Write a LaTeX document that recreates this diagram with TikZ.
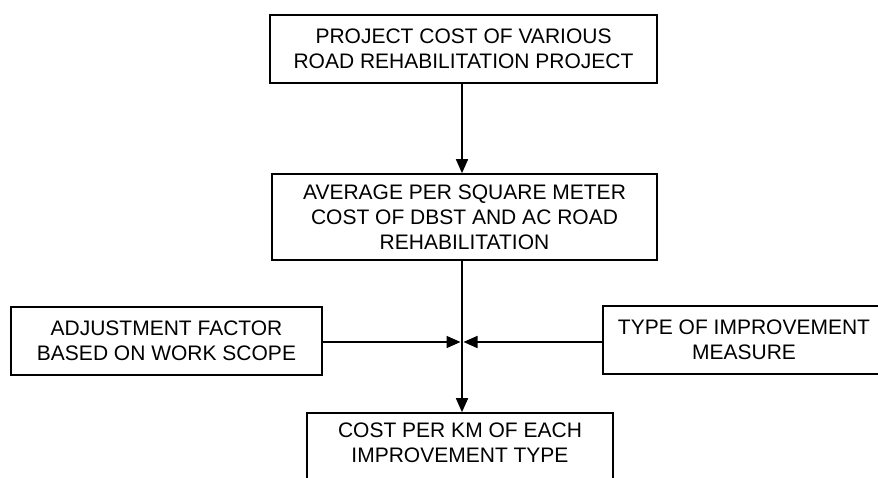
\documentclass[tikz,border=0pt]{standalone}
\usepackage{fontspec}
\setmainfont{Liberation Sans}
\usetikzlibrary{arrows.meta}
\begin{document}
\begin{tikzpicture}[x=1pt,y=1pt,
  txt/.style={align=center, inner sep=0pt, font=\fontsize{21}{25}\selectfont},
  box/.style={txt, draw=black, line width=1.6pt},
  flow/.style={line width=1.6pt, -{Triangle[length=14pt,width=12pt]}}]
  \useasboundingbox (0,0) rectangle (878,478);
  \clip (0,0) rectangle (878,478);
  % process boxes (y measured up from the bottom edge)
  \node[box, minimum width=387pt, minimum height=68pt] (top) at (463.5,429)
    {PROJECT COST OF VARIOUS\\ROAD REHABILITATION PROJECT};
  \node[box, minimum width=385pt, minimum height=86pt] (mid) at (464.5,261)
    {AVERAGE PER SQUARE METER\\COST OF DBST AND AC ROAD\\REHABILITATION};
  \node[box, minimum width=311pt, minimum height=68pt] (adj) at (166.5,137)
    {ADJUSTMENT FACTOR\\BASED ON WORK SCOPE};
  \node[box, minimum width=282pt, minimum height=68pt] (type) at (744,138)
    {TYPE OF IMPROVEMENT\\MEASURE};
  % result box runs past the lower edge; its text sits near the top
  \node[box, minimum width=306pt, minimum height=68pt] (res) at (460,31) {};
  \node[txt] (restext) at (460,35.5) {COST PER KM OF EACH\\IMPROVEMENT TYPE};
  % main spine and side inputs
  \coordinate (join) at (462,136);
  \draw[flow] (top.south -| join) -- (mid.north -| join);
  \draw[line width=1.6pt] (mid.south -| join) -- (join);
  \draw[flow] (join) -- (res.north -| join);
  \draw[flow] (adj.east |- join) -- ([xshift=-1.5pt]join);
  \draw[flow] (type.west |- join) -- ([xshift=1.5pt]join);
\end{tikzpicture}
\end{document}
